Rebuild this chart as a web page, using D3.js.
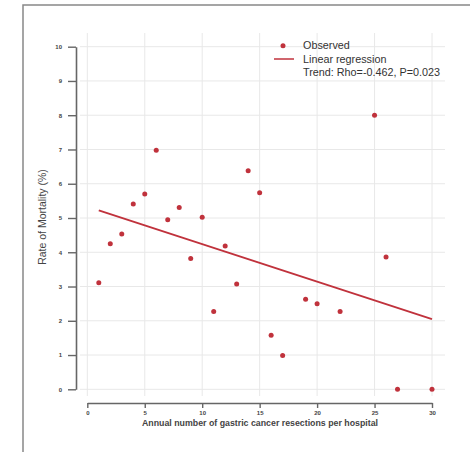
<!DOCTYPE html>
<html>
<head>
<meta charset="utf-8">
<script src="https://cdn.jsdelivr.net/npm/d3@7"></script>
<style>
  body { margin: 0; background: #fff; }
  svg { display: block; font-family: "Liberation Sans", Arial, sans-serif; }
</style>
</head>
<body>
<div id="chart"></div>
<script>
// Observed hospitals: annual resections vs mortality rate
const resections = [1, 2, 3, 4, 5, 6, 7, 8, 9, 10, 11, 12, 13, 14, 15, 16, 17, 19, 20, 22, 25, 26, 27, 30];
const mortality = [3.11, 4.25, 4.53, 5.41, 5.70, 6.98, 4.95, 5.31, 3.82, 5.02, 2.27, 4.18, 3.07, 6.38, 5.74, 1.58, 0.99, 2.63, 2.50, 2.27, 8.0, 3.86, 0, 0];

// Fitted line end points
const trendX = [1, 30];
const trendY = [5.22, 2.05];

const xTicks = [0, 5, 10, 15, 20, 25, 30];
const yTicks = [0, 1, 2, 3, 4, 5, 6, 7, 8, 9, 10];
const legendLabels = ["Observed", "Linear regression", "Trend: Rho=-0.462, P=0.023"];

const W = 470, H = 452;
const red = "#c0323c";

const svg = d3.select("#chart").append("svg")
    .attr("width", W)
    .attr("height", H);

// outer frame (only top/left visible in the crop)
svg.append("rect")
    .attr("x", 23).attr("y", 5)
    .attr("width", 460).attr("height", 460)
    .attr("fill", "none")
    .attr("stroke", "#888")
    .attr("stroke-width", 1.5);

const x = d3.scaleLinear().domain([0, 30]).range([87.3, 432]);
const y = d3.scaleLinear().domain([0, 10]).range([389.3, 46.7]);

// grid
svg.append("g")
    .selectAll("line")
    .data(xTicks)
    .join("line")
    .attr("x1", d => x(d)).attr("x2", d => x(d))
    .attr("y1", 33).attr("y2", 396)
    .attr("stroke", "#e8e8e8")
    .attr("stroke-width", 1);

svg.append("g")
    .selectAll("line")
    .data(yTicks)
    .join("line")
    .attr("x1", 80).attr("x2", 445)
    .attr("y1", d => y(d)).attr("y2", d => y(d))
    .attr("stroke", "#e8e8e8")
    .attr("stroke-width", 1);

// axes
const yAxis = svg.append("g")
    .attr("transform", "translate(76,0)")
    .call(d3.axisLeft(y).tickValues(yTicks).tickSize(8).tickSizeOuter(0).tickPadding(6));

const xAxis = svg.append("g")
    .attr("transform", "translate(0,403)")
    .call(d3.axisBottom(x).tickValues(xTicks).tickSize(5).tickSizeOuter(0).tickPadding(3));

[yAxis, xAxis].forEach(g => {
    g.select(".domain").attr("stroke", "#666").attr("stroke-width", 1.6);
    g.selectAll(".tick line").attr("stroke", "#666").attr("stroke-width", 1.4);
    g.selectAll(".tick text")
        .attr("fill", "#444")
        .attr("font-size", "6px")
        .attr("font-weight", "bold");
});

// axis titles
svg.append("text")
    .attr("transform", "translate(46,217) rotate(-90)")
    .attr("text-anchor", "middle")
    .attr("font-size", "10.5px")
    .attr("fill", "#444")
    .text("Rate of Mortality (%)");

svg.append("text")
    .attr("x", 260).attr("y", 426)
    .attr("text-anchor", "middle")
    .attr("font-size", "8.8px")
    .attr("font-weight", "bold")
    .attr("fill", "#444")
    .text("Annual number of gastric cancer resections per hospital");

// regression line
svg.append("line")
    .attr("x1", x(trendX[0])).attr("y1", y(trendY[0]))
    .attr("x2", x(trendX[1])).attr("y2", y(trendY[1]))
    .attr("stroke", red)
    .attr("stroke-width", 1.8);

// observed points
svg.append("g")
    .selectAll("circle")
    .data(resections.map((r, i) => ({ r, m: mortality[i] })))
    .join("circle")
    .attr("cx", d => x(d.r))
    .attr("cy", d => y(d.m))
    .attr("r", 2.5)
    .attr("fill", red);

// legend
const legend = svg.append("g");
legend.append("circle")
    .attr("cx", 283).attr("cy", 45.7).attr("r", 2.5)
    .attr("fill", red);
legend.append("line")
    .attr("x1", 274).attr("x2", 294)
    .attr("y1", 59).attr("y2", 59)
    .attr("stroke", red).attr("stroke-width", 1.5);
legend.selectAll("text")
    .data(legendLabels)
    .join("text")
    .attr("x", 303)
    .attr("y", (d, i) => 45.7 + i * 13.3)
    .attr("dy", "0.35em")
    .attr("font-size", "10.8px")
    .attr("fill", "#333")
    .text(d => d);
</script>
</body>
</html>
